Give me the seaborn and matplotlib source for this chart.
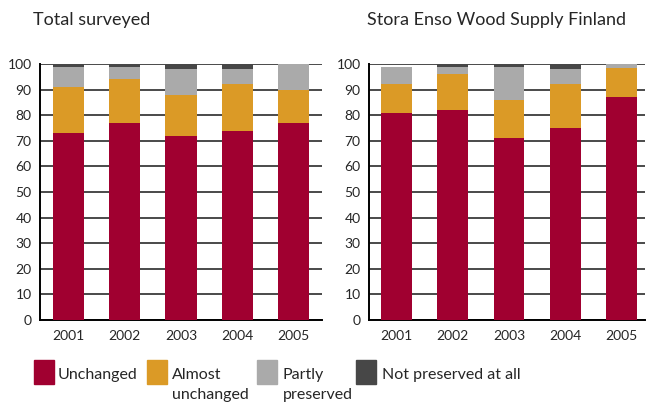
import numpy as np
import pandas as pd
import matplotlib
matplotlib.use("Agg")
import matplotlib.pyplot as plt
from matplotlib.patches import Rectangle
import seaborn as sns

YEARS = ["2001", "2002", "2003", "2004", "2005"]
CATEGORIES = ["Unchanged", "Almost\nunchanged", "Partly\npreserved", "Not preserved at all"]
COLORS = ["#A00030", "#DB9A26", "#AAAAAA", "#474747"]

# share of sites (%) per year, total surveyed
total_unchanged = [73, 77, 72, 74, 77]
total_almost = [18, 17, 16, 18, 13]
total_partly = [8, 5, 10, 6, 10]
total_not = [1, 1, 2, 2, 0]

# Stora Enso Wood Supply Finland
sewsf_unchanged = [81, 82, 71, 75, 87]
sewsf_almost = [11, 14, 15, 17, 11.5]
sewsf_partly = [7, 3, 13, 6, 1.5]
sewsf_not = [0, 1, 1, 2, 0]

sns.set_style("white")
plt.rcParams["font.family"] = ["Lato", "DejaVu Sans"]


def stacked(ax, series, title, title_x):
    df = pd.DataFrame(dict(zip(CATEGORIES, series)), index=YEARS)
    cum = df.cumsum(axis=1)
    # draw tallest cumulative first so lower segments sit on top
    for cat, color in reversed(list(zip(CATEGORIES, COLORS))):
        sns.barplot(x=YEARS, y=cum[cat].values, color=color, width=0.55,
                    saturation=1, ax=ax, zorder=3, linewidth=0)
    ax.set_ylim(0, 100)
    ax.set_yticks(np.arange(0, 101, 10))
    ax.yaxis.grid(True, color="#4a4a4a", linewidth=1.4, zorder=0)
    ax.set_axisbelow(True)
    for s in ["top", "right"]:
        ax.spines[s].set_visible(False)
    for s in ["left", "bottom"]:
        ax.spines[s].set_color("black")
        ax.spines[s].set_linewidth(1.4)
    ax.tick_params(axis="both", length=0, labelsize=10, pad=6)
    ax.tick_params(axis="x", pad=7)
    ax.set_xlabel("")
    ax.set_ylabel("")
    ax.figure.text(title_x, 0.951, title, fontsize=13, va="center", ha="left")


fig = plt.figure(figsize=(6.56, 4.09), dpi=100)
ax1 = fig.add_axes([40 / 656, 1 - 320 / 409, 282 / 656, 256 / 409])
ax2 = fig.add_axes([369 / 656, 1 - 320 / 409, 276 / 656, 256 / 409])

stacked(ax1, [total_unchanged, total_almost, total_partly, total_not],
        "Total surveyed", 33 / 656)
ax1.set_xlim(-0.5, 4.5)
stacked(ax2, [sewsf_unchanged, sewsf_almost, sewsf_partly, sewsf_not],
        "Stora Enso Wood Supply Finland", 367 / 656)
ax2.set_xlim(-0.49, 4.42)

# legend along the bottom
sq_x = [34, 147, 257, 356]
txt_x = [58, 172, 283, 382]
for sx, tx, label, color in zip(sq_x, txt_x, CATEGORIES, COLORS):
    fig.patches.append(Rectangle((sx / 656, 1 - 384 / 409), 20 / 656, 24 / 409,
                                 transform=fig.transFigure, color=color))
    fig.text(tx / 656, 1 - 368 / 409, label, fontsize=11.5, va="top", ha="left",
             linespacing=1.5)

fig.savefig("out.png", dpi=100)
